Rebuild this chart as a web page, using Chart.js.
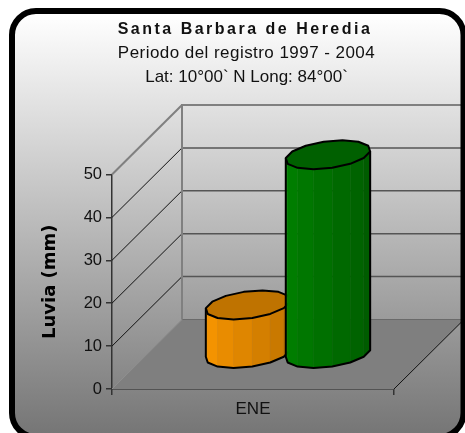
<!DOCTYPE html>
<html>
<head>
<meta charset="utf-8">
<title>Santa Barbara de Heredia</title>
<script src="https://cdn.jsdelivr.net/npm/chart.js@4/dist/chart.umd.min.js"></script>
<style>
	html, body { margin: 0; padding: 0; background: #fff; overflow: hidden; }
	#wrap { position: relative; width: 465px; height: 433px; }
</style>
</head>
<body>
<div id="wrap"><canvas id="myChart" width="465" height="433"></canvas></div>
<script>
var categories = ['ENE'];
var serieNaranja = [11.5];
var serieVerde = [46.5];
var yMax = 50;
var yStep = 10;
var headerLines = ['Santa Barbara de Heredia', 'Periodo del registro 1997 - 2004', 'Lat: 10°00` N Long: 84°00`'];
var yTitle = 'Luvia (mm)';

// oblique depth of the 3D box
var depthX = 70;
var depthY = 69.5;
var FONT = '"Liberation Sans", Arial, sans-serif';

var barStyles = [
	{ left: [255, 153, 0], right: [190, 114, 0], top: '#bf7300' },
	{ left: [0, 132, 0], right: [0, 92, 0], top: '#006000' }
];

function line(ctx, x1, y1, x2, y2, color, width) {
	ctx.strokeStyle = color;
	ctx.lineWidth = width;
	ctx.beginPath();
	ctx.moveTo(x1, y1);
	ctx.lineTo(x2, y2);
	ctx.stroke();
}

function cardPath(ctx) {
	ctx.beginPath();
	ctx.roundRect(12, 11, 451.5, 426, 24);
}

var cardPlugin = {
	id: 'card',
	beforeDraw: function (chart) {
		var ctx = chart.ctx;
		var grad = ctx.createLinearGradient(0, 14, 0, 433);
		grad.addColorStop(0, '#ffffff');
		grad.addColorStop(1, '#767676');
		ctx.save();
		cardPath(ctx);
		ctx.fillStyle = grad;
		ctx.fill();
		ctx.restore();
	},
	afterDraw: function (chart) {
		var ctx = chart.ctx;
		ctx.save();
		cardPath(ctx);
		ctx.strokeStyle = '#000';
		ctx.lineWidth = 6;
		ctx.stroke();

		// header, spaced out by hand because the title box has no tracking
		ctx.textAlign = 'center';
		ctx.textBaseline = 'middle';
		ctx.fillStyle = '#111';
		ctx.font = 'bold 16px ' + FONT;
		ctx.letterSpacing = '2.5px';
		ctx.fillText(headerLines[0], 245, 30);
		ctx.font = '17px ' + FONT;
		ctx.letterSpacing = '0.45px';
		ctx.fillText(headerLines[1], 246.5, 53);
		ctx.letterSpacing = '0px';
		ctx.fillText(headerLines[2], 246.5, 77);
		ctx.restore();
	}
};

// floor, back wall and side wall, placed from the front plane scales
var boxPlugin = {
	id: 'box',
	beforeDatasetsDraw: function (chart) {
		var ctx = chart.ctx;
		var area = chart.chartArea;
		var y = chart.scales.y;
		var y0 = y.getPixelForValue(0);
		var backL = area.left + depthX;
		var backR = area.right + depthX;

		ctx.save();
		ctx.fillStyle = '#7f7f7f';
		ctx.beginPath();
		ctx.moveTo(area.left, y0);
		ctx.lineTo(area.right, y0);
		ctx.lineTo(backR, y0 - depthY);
		ctx.lineTo(backL, y0 - depthY);
		ctx.closePath();
		ctx.fill();

		y.ticks.forEach(function (t) {
			var py = y.getPixelForValue(t.value);
			if (t.value === 0) {
				line(ctx, area.left, py, backL, py - depthY, '#8f8f8f', 1);
				line(ctx, backL, py - depthY, backR, py - depthY, '#6a6a6a', 1);
				return;
			}
			var isTop = t.value === yMax;
			line(ctx, backL, py - depthY, backR, py - depthY, isTop ? '#808080' : '#555', isTop ? 2 : 1.5);
			line(ctx, area.left, py, backL, py - depthY, isTop ? '#808080' : '#111', isTop ? 2 : 1);
		});
		line(ctx, backL, y.getPixelForValue(yMax) - depthY - 1, backL, y0 - depthY, '#808080', 2);
		line(ctx, area.right, y0, backR, y0 - depthY, '#111', 1);
		ctx.restore();
	}
};

function mixColor(a, b, t) {
	return 'rgb(' + a.map(function (v, i) {
		return Math.round(v + (b[i] - v) * t);
	}).join(',') + ')';
}

function drawCylinder(ctx, bar, style) {
	var n = 14;
	var r = bar.width / 2;
	var d = 14.5;
	var cx = bar.x + depthX / 2;
	var topY = bar.y - depthY / 2;
	var baseY = bar.base - depthY / 2;
	var rim = [];
	for (var i = 0; i <= n; i++) {
		var a = (i + 0.5) / n * Math.PI * 2;
		rim.push({ x: cx + r * Math.cos(a) + d * Math.sin(a), dy: -d * Math.sin(a) });
	}

	// the front facing facets are the ones that run left to right
	var front = [];
	for (var j = 0; j < n; j++) {
		if (rim[j + 1].x > rim[j].x) front.push([rim[j], rim[j + 1]]);
	}
	front.sort(function (p, q) { return p[0].x - q[0].x; });

	front.forEach(function (f, k) {
		var col = mixColor(style.left, style.right, k / Math.max(front.length - 1, 1));
		ctx.fillStyle = col;
		ctx.strokeStyle = col;
		ctx.lineWidth = 0.5;
		ctx.beginPath();
		ctx.moveTo(f[0].x, topY + f[0].dy);
		ctx.lineTo(f[1].x, topY + f[1].dy);
		ctx.lineTo(f[1].x, baseY + f[1].dy);
		ctx.lineTo(f[0].x, baseY + f[0].dy);
		ctx.closePath();
		ctx.fill();
		ctx.stroke();
	});

	// outline down the left side, around the base and up the right side
	ctx.strokeStyle = '#000';
	ctx.lineWidth = 2;
	ctx.lineJoin = 'round';
	ctx.beginPath();
	ctx.moveTo(front[0][0].x, topY + front[0][0].dy);
	ctx.lineTo(front[0][0].x, baseY + front[0][0].dy);
	front.forEach(function (f) {
		ctx.lineTo(f[1].x, baseY + f[1].dy);
	});
	ctx.lineTo(front[front.length - 1][1].x, topY + front[front.length - 1][1].dy);
	ctx.stroke();

	ctx.fillStyle = style.top;
	ctx.beginPath();
	for (var m = 0; m < n; m++) {
		if (m === 0) ctx.moveTo(rim[m].x, topY + rim[m].dy);
		else ctx.lineTo(rim[m].x, topY + rim[m].dy);
	}
	ctx.closePath();
	ctx.fill();
	ctx.stroke();
}

var cylinderPlugin = {
	id: 'cylinders',
	afterDatasetsDraw: function (chart) {
		var ctx = chart.ctx;
		ctx.save();
		chart.data.datasets.forEach(function (ds, i) {
			chart.getDatasetMeta(i).data.forEach(function (bar) {
				drawCylinder(ctx, bar, barStyles[i]);
			});
		});
		ctx.restore();
	}
};

var ctx = document.getElementById('myChart').getContext('2d');
var myChart = new Chart(ctx, {
	type: 'bar',
	data: {
		labels: categories,
		datasets: [
			{ label: 'Serie 1', data: serieNaranja, backgroundColor: 'transparent' },
			{ label: 'Serie 2', data: serieVerde, backgroundColor: 'transparent' }
		]
	},
	plugins: [cardPlugin, boxPlugin, cylinderPlugin],
	options: {
		responsive: false,
		animation: false,
		layout: { padding: { top: 174.5, right: 71, bottom: 0, left: 0 } },
		categoryPercentage: 0.567,
		barPercentage: 1,
		plugins: {
			legend: { display: false },
			tooltip: { enabled: false },
			title: { display: false }
		},
		scales: {
			x: {
				afterFit: function (scale) { scale.height = 44; },
				grid: { drawOnChartArea: false, tickLength: 6, tickColor: '#333', lineWidth: 1.5 },
				border: { color: '#222', width: 1.5 },
				ticks: { color: '#111', padding: 4, font: { family: FONT, size: 17 } }
			},
			y: {
				min: 0,
				max: yMax,
				afterFit: function (scale) { scale.width = 112; },
				grid: { drawOnChartArea: false, tickLength: 6, tickColor: '#333', lineWidth: 1.5 },
				border: { color: '#333', width: 1.5 },
				ticks: { stepSize: yStep, color: '#111', padding: 4, font: { family: FONT, size: 16.5 } },
				title: {
					display: true,
					text: yTitle,
					color: '#000',
					padding: { top: 39.5, bottom: 0 },
					font: { family: '"DejaVu Sans"', size: 18, weight: 'bold' }
				}
			}
		}
	}
});
</script>
</body>
</html>
